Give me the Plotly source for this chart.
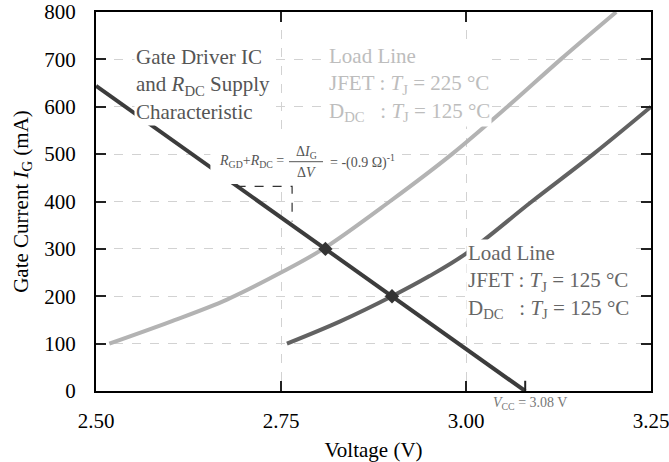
import plotly.graph_objects as go

# Gate driver IC + R_DC supply characteristic (straight line down to V_CC)
v_driver = [2.50, 3.08]
i_driver = [644, 0]

# Load line, JFET T_J = 225 °C, D_DC T_J = 125 °C
v_load225 = [2.518, 2.60, 2.677, 2.75, 2.807, 2.897, 2.981, 3.056, 3.128, 3.203]
i_load225 = [100, 146, 193, 250, 300, 400, 500, 600, 700, 800]

# Load line, JFET T_J = 125 °C, D_DC T_J = 125 °C
v_load125 = [2.758, 2.83, 2.90, 2.95, 3.00, 3.089, 3.172, 3.25]
i_load125 = [100, 147, 200, 242, 290, 400, 500, 600]

# Operating points
v_op = [2.81, 2.90]
i_op = [300, 200]

# Slope indicator triangle
v_tri = [2.69, 2.765, 2.765]
i_tri = [432, 432, 358]

x_ticks = [2.50, 2.75, 3.00, 3.25]
x_ticktext = ["2.50", "2.75", "3.00", "3.25"]
y_ticks = [0, 100, 200, 300, 400, 500, 600, 700, 800]

SERIF = '"Liberation Serif", "Times New Roman", "DejaVu Serif", serif'
C_DRIVER = "#3c3c3c"
C_225 = "#b3b3b3"
C_125 = "#626262"

fig = go.Figure()

fig.add_trace(go.Scatter(x=v_load225, y=i_load225, mode="lines",
                         line=dict(color=C_225, width=4, shape="spline", smoothing=1.0),
                         hoverinfo="skip"))
fig.add_trace(go.Scatter(x=v_load125, y=i_load125, mode="lines",
                         line=dict(color=C_125, width=4, shape="spline", smoothing=1.0),
                         hoverinfo="skip"))
fig.add_trace(go.Scatter(x=v_driver, y=i_driver, mode="lines",
                         line=dict(color=C_DRIVER, width=4), hoverinfo="skip"))
fig.add_trace(go.Scatter(x=v_tri, y=i_tri, mode="lines",
                         line=dict(color="#333333", width=1.2, dash="dash"),
                         hoverinfo="skip"))
fig.add_trace(go.Scatter(x=v_op, y=i_op, mode="markers",
                         marker=dict(symbol="diamond", size=11, color="#333333"),
                         hoverinfo="skip"))

axis_common = dict(
    showline=True, linewidth=2, linecolor="black", mirror="ticks",
    ticks="inside", ticklen=10, tickwidth=2, tickcolor="#222222",
    showgrid=True, gridcolor="#d2d2d2", gridwidth=1, griddash="dash",
    zeroline=False, automargin=False, ticklabeloverflow="allow",
    tickfont=dict(family=SERIF, size=21, color="black"),
)

fig.update_xaxes(
    range=[2.50, 3.25], tickvals=x_ticks, ticktext=x_ticktext,
    ticklabelstandoff=10,
    title=dict(text="Voltage (V)", font=dict(family=SERIF, size=21, color="black"),
               standoff=22),
    **axis_common,
)
fig.update_yaxes(
    range=[0, 800], tickvals=y_ticks, ticklabelstandoff=14,
    title=dict(text="Gate Current <i>I</i><sub>G</sub> (mA)",
               font=dict(family=SERIF, size=21, color="black"), standoff=10),
    **axis_common,
)

# V_CC tick on the bottom axis
fig.add_shape(type="line", xref="x", yref="paper", x0=3.08, x1=3.08, y0=0, y1=0.027,
              line=dict(color="#222222", width=2))

# White backing for the slope formula
fig.add_shape(type="rect", xref="x", yref="y", layer="above",
              x0=2.6546, x1=2.8988, y0=437, y1=535,
              fillcolor="white", line=dict(width=0))
fig.add_shape(type="line", xref="x", yref="y", layer="above",
              x0=2.7608, x1=2.8068, y0=484, y1=484,
              line=dict(color="#555555", width=1))

ann_font = dict(family=SERIF, size=21)
small = dict(family=SERIF, size=14, color="#555555")

annotations = [
    dict(x=2.5520, y=647, xanchor="left", yanchor="middle", align="left",
         text="Gate Driver IC<br>and <i>R</i><sub>DC</sub> Supply<br>Characteristic",
         font=dict(color="#555555", **ann_font), bgcolor="white", borderpad=1),
    dict(x=2.8120, y=647, xanchor="left", yanchor="middle", align="left",
         text="Load Line<br>JFET : <i>T</i><sub>J</sub> = 225 °C<br>"
              "D<sub>DC</sub>   : <i>T</i><sub>J</sub> = 125 °C",
         font=dict(color="#bdbdbd", **ann_font), bgcolor="white", borderpad=1),
    dict(x=3.0000, y=231, xanchor="left", yanchor="middle", align="left",
         text="Load Line<br>JFET : <i>T</i><sub>J</sub> = 125 °C<br>"
              "D<sub>DC</sub>   : <i>T</i><sub>J</sub> = 125 °C",
         font=dict(color="#666666", **ann_font), bgcolor="white", borderpad=1),
    dict(x=2.757, y=484, xanchor="right", yanchor="middle",
         text="<i>R</i><sub>GD</sub>+<i>R</i><sub>DC</sub> =", font=small),
    dict(x=2.7838, y=504, xanchor="center", yanchor="middle",
         text="Δ<i>I</i><sub>G</sub>", font=small),
    dict(x=2.7838, y=461, xanchor="center", yanchor="middle",
         text="Δ<i>V</i>", font=small),
    dict(x=2.8135, y=484, xanchor="left", yanchor="middle",
         text="= -(0.9 Ω)<sup>-1</sup>", font=small),
    dict(x=3.0338, y=-0.033, yref="paper", xanchor="left", yanchor="middle",
         text="<i>V</i><sub>CC</sub> = 3.08 V",
         font=dict(family=SERIF, size=14, color="#777777")),
]
for a in annotations:
    a.setdefault("showarrow", False)
    a.setdefault("xref", "x")
    a.setdefault("yref", "y")
fig.update_layout(annotations=annotations)

fig.update_layout(
    width=669, height=462,
    margin=dict(l=96, r=18, t=12, b=71),
    plot_bgcolor="white", paper_bgcolor="white",
    showlegend=False,
    font=dict(family=SERIF),
)

fig.write_html("out.html")
